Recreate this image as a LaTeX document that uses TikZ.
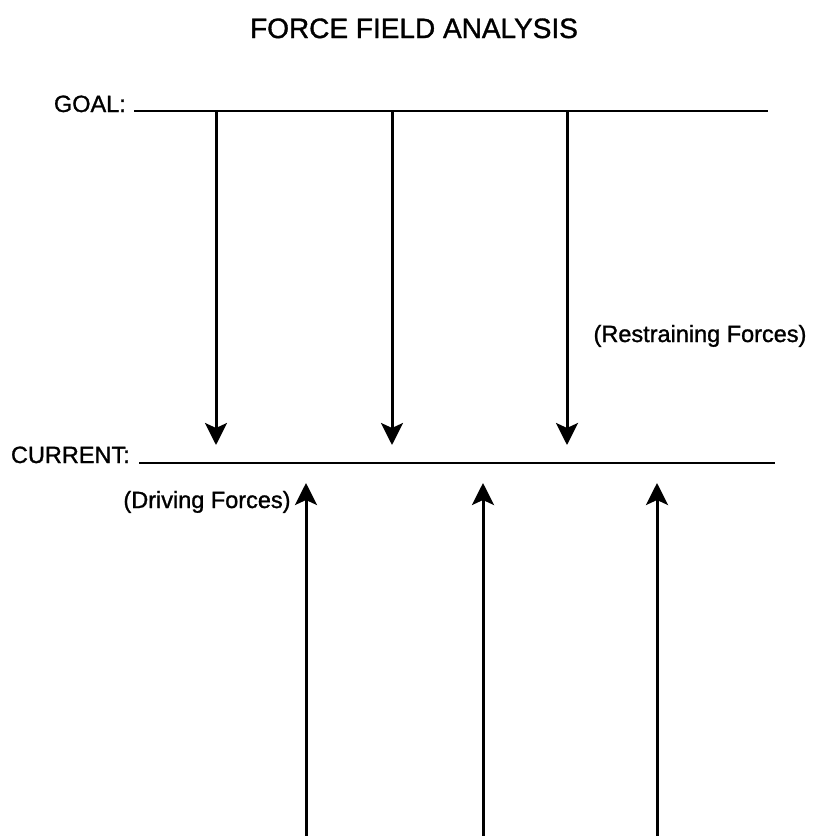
\documentclass[tikz,border=0pt]{standalone}
\usepackage{fontspec}
\setmainfont{Liberation Sans}
\newfontfamily\heavyfont{Liberation Sans}[FakeBold=1.2]
\usetikzlibrary{arrows.meta}
\begin{document}
\begin{tikzpicture}[x=1pt,y=-1pt,
  lbl/.style={inner sep=0pt, font=\heavyfont\fontsize{23.5}{26}\selectfont},
  level/.style={line width=2.2pt},
  force/.style={line width=3pt, -{Stealth[length=22pt,width=22pt,inset=5pt]}}]
\useasboundingbox (0,0) rectangle (814,836);
% title
\node[inner sep=0pt, anchor=base, font=\heavyfont\fontsize{28}{31}\selectfont] (title) at (414,38) {FORCE FIELD ANALYSIS};
% goal
\node[lbl, anchor=base east] (goal) at (126,112) {GOAL:};
\coordinate (gA) at (134,111);
\coordinate (gB) at (768,111);
\draw[level] (gA) -- (gB);
% current
\node[lbl, anchor=base east] (cur) at (130,463) {CURRENT:};
\coordinate (cA) at (139,463);
\coordinate (cB) at (775,463);
\draw[level] (cA) -- (cB);
% restraining forces
\foreach \i/\x in {1/216,2/392,3/567}{
  \coordinate (rs\i) at (\x,111);
  \coordinate (re\i) at (\x,445);
  \draw[force] (rs\i) -- (re\i);
}
% driving forces
\foreach \i/\x in {1/306,2/483,3/657}{
  \coordinate (ds\i) at (\x,837);
  \coordinate (de\i) at (\x,483);
  \draw[force] (ds\i) -- (de\i);
}
\node[lbl, anchor=base] (restr) at (700,342) {(Restraining Forces)};
\node[lbl, anchor=base] (drive) at (207,508) {(Driving Forces)};
\end{tikzpicture}
\end{document}
